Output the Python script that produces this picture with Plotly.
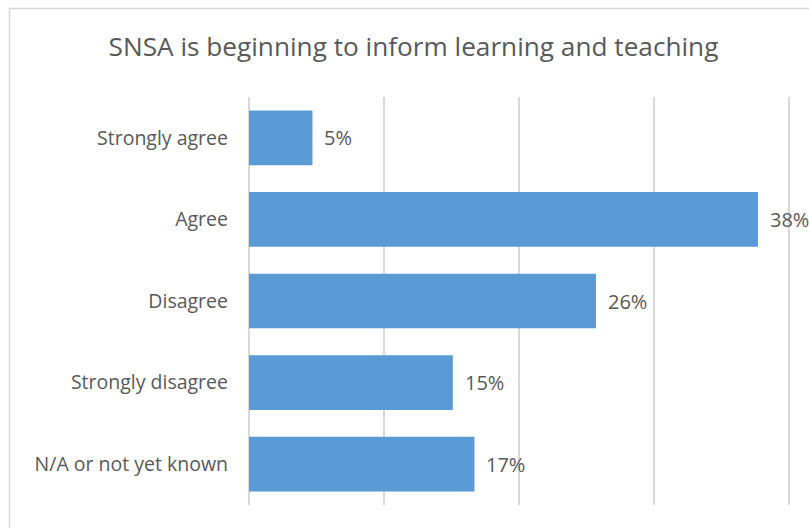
import plotly.graph_objects as go

categories = ["Strongly agree", "Agree", "Disagree", "Strongly disagree", "N/A or not yet known"]
values = [4.7, 37.7, 25.7, 15.1, 16.7]
labels = ["5%", "38%", "26%", "15%", "17%"]
title_text = "SNSA is beginning to inform learning and teaching"

FONT = "'Open Sans', sans-serif"
GREY = "#595959"

W, H = 809, 528
L, T, B = 249, 97, 23
PW, PH = W - L, H - T - B

fig = go.Figure()
fig.add_trace(go.Bar(
    x=values, y=categories, orientation="h",
    marker=dict(color="#5B9BD5", line=dict(width=0)),
    width=0.67, hoverinfo="skip", cliponaxis=False,
))
for c, v, t in zip(categories, values, labels):
    fig.add_annotation(x=v, y=c, text=t, showarrow=False, xanchor="left",
                       xshift=10, font=dict(family=FONT, size=20, color=GREY))

fig.add_shape(type="rect", xref="paper", yref="paper",
              x0=(9.5 - L) / PW, x1=(W + 20 - L) / PW,
              y0=-40 / PH, y1=(H - B - 8.5) / PH,
              line=dict(color="#D9D9D9", width=1.5), layer="below")

fig.update_layout(
    width=W, height=H,
    margin=dict(l=L, r=0, t=T, b=B),
    paper_bgcolor="white", plot_bgcolor="white",
    showlegend=False,
    title=dict(text=title_text, x=413.5 / W, xanchor="center", xref="container",
               y=1 - 47 / H, yanchor="middle", yref="container",
               font=dict(family=FONT, size=26.2, color=GREY)),
    xaxis=dict(range=[0, PW / 13.5], tick0=0, dtick=10, showgrid=True,
               gridcolor="#D9D9D9", gridwidth=1.5,
               showticklabels=False, zeroline=True, zerolinecolor="#D9D9D9",
               zerolinewidth=1.5, showline=False, ticks=""),
    yaxis=dict(categoryorder="array", categoryarray=categories[::-1],
               showgrid=False, zeroline=False, showline=False, ticks="",
               ticklabelstandoff=20,
               tickfont=dict(family=FONT, size=19.5, color=GREY)),
)
fig.write_html("out.html", config={"displayModeBar": False},
               post_script="document.body.style.margin='0';document.body.style.overflow='hidden';")
